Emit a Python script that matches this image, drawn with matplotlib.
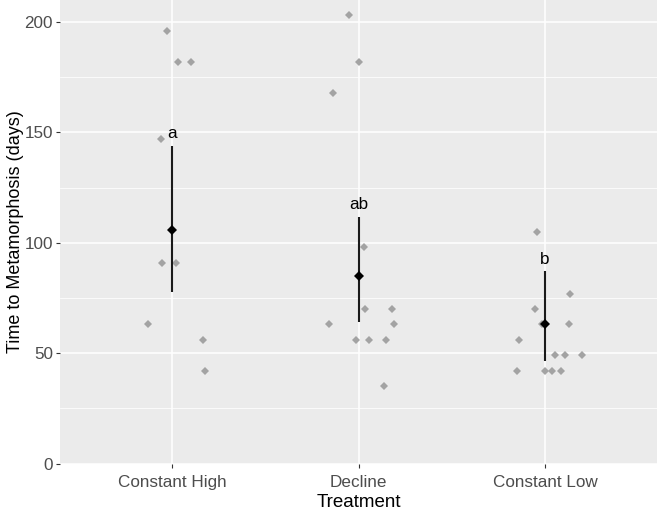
import matplotlib.pyplot as plt
import numpy as np

plt.rcParams['font.family'] = ['Liberation Sans', 'DejaVu Sans']

treatments = ['Constant High', 'Decline', 'Constant Low']

high_days = [196, 182, 182, 147, 91, 91, 63, 56, 42]
high_jitter = [-0.025, 0.032, 0.104, -0.059, -0.055, 0.023, -0.126, 0.167, 0.178]

decline_days = [203, 182, 168, 98, 70, 70, 63, 63, 56, 56, 56, 35]
decline_jitter = [-0.050, 0.0, -0.135, 0.031, 0.034, 0.178, -0.158, 0.189, -0.011, 0.054, 0.149, 0.138]

low_days = [105, 77, 70, 63, 63, 56, 49, 49, 49, 42, 42, 42, 42]
low_jitter = [-0.041, 0.133, -0.055, -0.018, 0.128, -0.140, 0.054, 0.108, 0.198, -0.152, -0.001, 0.038, 0.083]

# model means with confidence limits, and significance letters
means = [105.6, 84.8, 63.3]
ci_low = [77.5, 63.9, 46.6]
ci_high = [144.0, 111.9, 87.0]
letters = ['a', 'ab', 'b']

fig = plt.figure(figsize=(6.61, 5.14), dpi=100)
ax = fig.add_axes([60 / 661, 1 - 463.5 / 514, 597 / 661, 463.5 / 514])
ax.set_facecolor('#EBEBEB')
for s in ax.spines.values():
    s.set_visible(False)

groups = [(high_days, high_jitter), (decline_days, decline_jitter), (low_days, low_jitter)]
for i, (days, jit) in enumerate(groups):
    xs = i + 1 + np.array(jit)
    ax.plot(xs, days, linestyle='none', marker='D', ms=3.8, color='#A3A3A3',
            markeredgewidth=0, zorder=3)

xpos = np.arange(1, len(treatments) + 1)
ax.vlines(xpos, ci_low, ci_high, color='#1A1A1A', linewidth=1.5, zorder=4)
ax.plot(xpos, means, linestyle='none', marker='D', ms=4.6, color='black',
        markeredgewidth=0, zorder=5)
for x, top, lab in zip(xpos, ci_high, letters):
    ax.text(x, top + 3.5, lab, ha='center', va='baseline', fontsize=12.3, color='black', zorder=6)

ax.set_xlim(0.4, 3.6)
ax.set_ylim(0, 210)
ax.set_xticks(xpos)
ax.set_xticklabels(treatments)
ax.set_yticks(np.arange(0, 201, 50))
ax.set_yticks(np.arange(25, 201, 50), minor=True)
ax.grid(which='major', color='white', linewidth=1.1)
ax.grid(which='minor', axis='y', color='white', linewidth=0.55)
ax.set_axisbelow(True)
ax.tick_params(which='major', length=3, width=0.8, color='#333333', labelcolor='#4D4D4D',
               labelsize=12.3, pad=2)
ax.tick_params(axis='x', which='major', pad=5)
ax.tick_params(which='minor', length=0)

ax.set_xlabel('Treatment', fontsize=13.5, labelpad=3.5)
ax.set_ylabel('Time to Metamorphosis (days)', fontsize=13, labelpad=0.5)

fig.savefig('out.png', dpi=100)
